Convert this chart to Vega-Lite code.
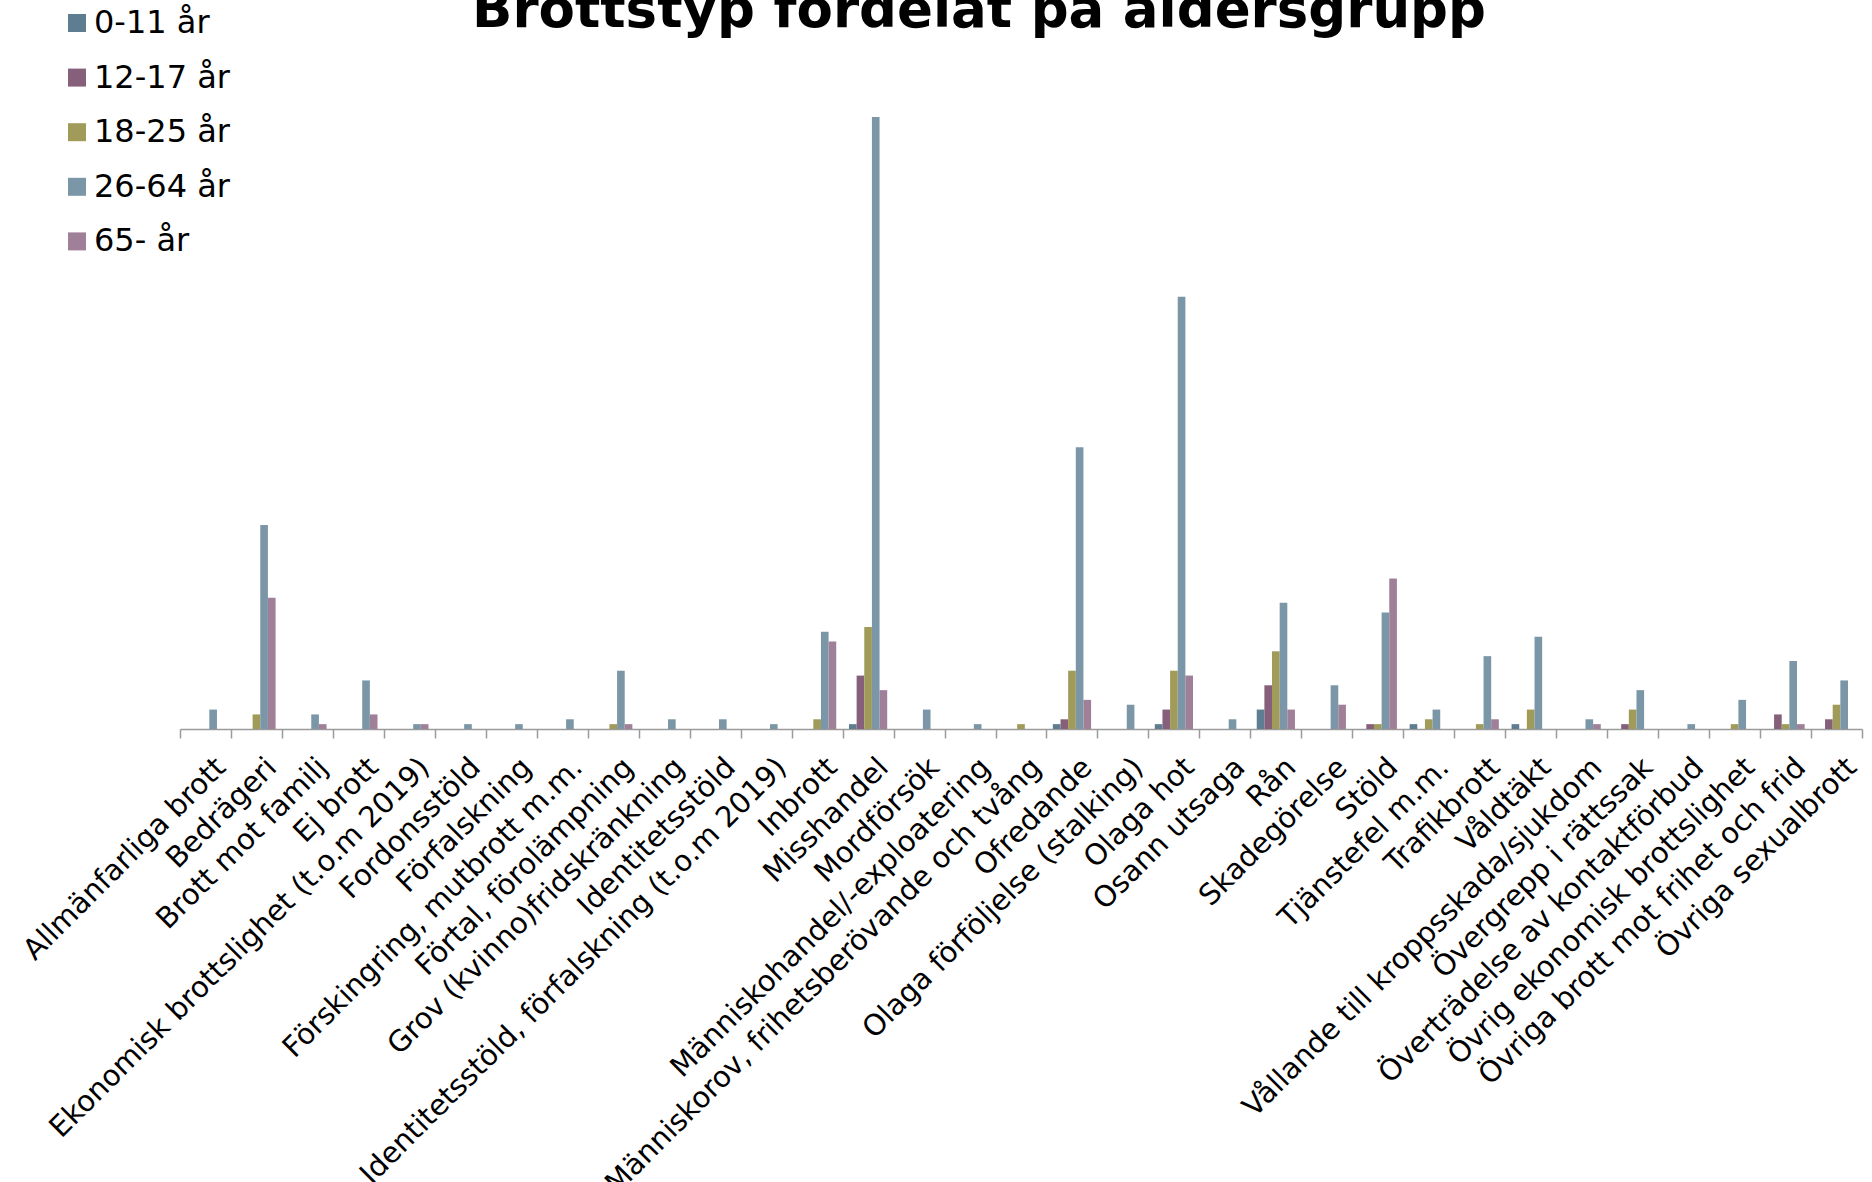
{
  "$schema": "https://vega.github.io/schema/vega-lite/v6.json",
  "autosize": {"type": "none"},
  "padding": {"left": 180, "top": 49, "right": 10, "bottom": 453},
  "width": 1682,
  "height": 680,
  "background": "white",
  "config": {"view": {"stroke": null}},
  "title": {
    "text": "Brottstyp fördelat på åldersgrupp",
    "font": "DejaVu Sans",
    "fontSize": 53,
    "fontWeight": "bold",
    "color": "black",
    "anchor": "middle",
    "frame": "group",
    "baseline": "alphabetic",
    "offset": 22,
    "dx": -42,
    "dy": 95
  },
  "data": {
    "values": [
      {"brottstyp": "Allmänfarliga brott", "alder": "0-11 år", "antal": 0},
      {"brottstyp": "Allmänfarliga brott", "alder": "12-17 år", "antal": 0},
      {"brottstyp": "Allmänfarliga brott", "alder": "18-25 år", "antal": 0},
      {"brottstyp": "Allmänfarliga brott", "alder": "26-64 år", "antal": 4},
      {"brottstyp": "Allmänfarliga brott", "alder": "65- år", "antal": 0},
      {"brottstyp": "Bedrägeri", "alder": "0-11 år", "antal": 0},
      {"brottstyp": "Bedrägeri", "alder": "12-17 år", "antal": 0},
      {"brottstyp": "Bedrägeri", "alder": "18-25 år", "antal": 3},
      {"brottstyp": "Bedrägeri", "alder": "26-64 år", "antal": 42},
      {"brottstyp": "Bedrägeri", "alder": "65- år", "antal": 27},
      {"brottstyp": "Brott mot familj", "alder": "0-11 år", "antal": 0},
      {"brottstyp": "Brott mot familj", "alder": "12-17 år", "antal": 0},
      {"brottstyp": "Brott mot familj", "alder": "18-25 år", "antal": 0},
      {"brottstyp": "Brott mot familj", "alder": "26-64 år", "antal": 3},
      {"brottstyp": "Brott mot familj", "alder": "65- år", "antal": 1},
      {"brottstyp": "Ej brott", "alder": "0-11 år", "antal": 0},
      {"brottstyp": "Ej brott", "alder": "12-17 år", "antal": 0},
      {"brottstyp": "Ej brott", "alder": "18-25 år", "antal": 0},
      {"brottstyp": "Ej brott", "alder": "26-64 år", "antal": 10},
      {"brottstyp": "Ej brott", "alder": "65- år", "antal": 3},
      {"brottstyp": "Ekonomisk brottslighet (t.o.m 2019)", "alder": "0-11 år", "antal": 0},
      {"brottstyp": "Ekonomisk brottslighet (t.o.m 2019)", "alder": "12-17 år", "antal": 0},
      {"brottstyp": "Ekonomisk brottslighet (t.o.m 2019)", "alder": "18-25 år", "antal": 0},
      {"brottstyp": "Ekonomisk brottslighet (t.o.m 2019)", "alder": "26-64 år", "antal": 1},
      {"brottstyp": "Ekonomisk brottslighet (t.o.m 2019)", "alder": "65- år", "antal": 1},
      {"brottstyp": "Fordonsstöld", "alder": "0-11 år", "antal": 0},
      {"brottstyp": "Fordonsstöld", "alder": "12-17 år", "antal": 0},
      {"brottstyp": "Fordonsstöld", "alder": "18-25 år", "antal": 0},
      {"brottstyp": "Fordonsstöld", "alder": "26-64 år", "antal": 1},
      {"brottstyp": "Fordonsstöld", "alder": "65- år", "antal": 0},
      {"brottstyp": "Förfalskning", "alder": "0-11 år", "antal": 0},
      {"brottstyp": "Förfalskning", "alder": "12-17 år", "antal": 0},
      {"brottstyp": "Förfalskning", "alder": "18-25 år", "antal": 0},
      {"brottstyp": "Förfalskning", "alder": "26-64 år", "antal": 1},
      {"brottstyp": "Förfalskning", "alder": "65- år", "antal": 0},
      {"brottstyp": "Förskingring, mutbrott m.m.", "alder": "0-11 år", "antal": 0},
      {"brottstyp": "Förskingring, mutbrott m.m.", "alder": "12-17 år", "antal": 0},
      {"brottstyp": "Förskingring, mutbrott m.m.", "alder": "18-25 år", "antal": 0},
      {"brottstyp": "Förskingring, mutbrott m.m.", "alder": "26-64 år", "antal": 2},
      {"brottstyp": "Förskingring, mutbrott m.m.", "alder": "65- år", "antal": 0},
      {"brottstyp": "Förtal, förolämpning", "alder": "0-11 år", "antal": 0},
      {"brottstyp": "Förtal, förolämpning", "alder": "12-17 år", "antal": 0},
      {"brottstyp": "Förtal, förolämpning", "alder": "18-25 år", "antal": 1},
      {"brottstyp": "Förtal, förolämpning", "alder": "26-64 år", "antal": 12},
      {"brottstyp": "Förtal, förolämpning", "alder": "65- år", "antal": 1},
      {"brottstyp": "Grov (kvinno)fridskränkning", "alder": "0-11 år", "antal": 0},
      {"brottstyp": "Grov (kvinno)fridskränkning", "alder": "12-17 år", "antal": 0},
      {"brottstyp": "Grov (kvinno)fridskränkning", "alder": "18-25 år", "antal": 0},
      {"brottstyp": "Grov (kvinno)fridskränkning", "alder": "26-64 år", "antal": 2},
      {"brottstyp": "Grov (kvinno)fridskränkning", "alder": "65- år", "antal": 0},
      {"brottstyp": "Identitetsstöld", "alder": "0-11 år", "antal": 0},
      {"brottstyp": "Identitetsstöld", "alder": "12-17 år", "antal": 0},
      {"brottstyp": "Identitetsstöld", "alder": "18-25 år", "antal": 0},
      {"brottstyp": "Identitetsstöld", "alder": "26-64 år", "antal": 2},
      {"brottstyp": "Identitetsstöld", "alder": "65- år", "antal": 0},
      {"brottstyp": "Identitetsstöld, förfalskning (t.o.m 2019)", "alder": "0-11 år", "antal": 0},
      {"brottstyp": "Identitetsstöld, förfalskning (t.o.m 2019)", "alder": "12-17 år", "antal": 0},
      {"brottstyp": "Identitetsstöld, förfalskning (t.o.m 2019)", "alder": "18-25 år", "antal": 0},
      {"brottstyp": "Identitetsstöld, förfalskning (t.o.m 2019)", "alder": "26-64 år", "antal": 1},
      {"brottstyp": "Identitetsstöld, förfalskning (t.o.m 2019)", "alder": "65- år", "antal": 0},
      {"brottstyp": "Inbrott", "alder": "0-11 år", "antal": 0},
      {"brottstyp": "Inbrott", "alder": "12-17 år", "antal": 0},
      {"brottstyp": "Inbrott", "alder": "18-25 år", "antal": 2},
      {"brottstyp": "Inbrott", "alder": "26-64 år", "antal": 20},
      {"brottstyp": "Inbrott", "alder": "65- år", "antal": 18},
      {"brottstyp": "Misshandel", "alder": "0-11 år", "antal": 1},
      {"brottstyp": "Misshandel", "alder": "12-17 år", "antal": 11},
      {"brottstyp": "Misshandel", "alder": "18-25 år", "antal": 21},
      {"brottstyp": "Misshandel", "alder": "26-64 år", "antal": 126},
      {"brottstyp": "Misshandel", "alder": "65- år", "antal": 8},
      {"brottstyp": "Mordförsök", "alder": "0-11 år", "antal": 0},
      {"brottstyp": "Mordförsök", "alder": "12-17 år", "antal": 0},
      {"brottstyp": "Mordförsök", "alder": "18-25 år", "antal": 0},
      {"brottstyp": "Mordförsök", "alder": "26-64 år", "antal": 4},
      {"brottstyp": "Mordförsök", "alder": "65- år", "antal": 0},
      {"brottstyp": "Människohandel/-exploatering", "alder": "0-11 år", "antal": 0},
      {"brottstyp": "Människohandel/-exploatering", "alder": "12-17 år", "antal": 0},
      {"brottstyp": "Människohandel/-exploatering", "alder": "18-25 år", "antal": 0},
      {"brottstyp": "Människohandel/-exploatering", "alder": "26-64 år", "antal": 1},
      {"brottstyp": "Människohandel/-exploatering", "alder": "65- år", "antal": 0},
      {"brottstyp": "Människorov, frihetsberövande och tvång", "alder": "0-11 år", "antal": 0},
      {"brottstyp": "Människorov, frihetsberövande och tvång", "alder": "12-17 år", "antal": 0},
      {"brottstyp": "Människorov, frihetsberövande och tvång", "alder": "18-25 år", "antal": 1},
      {"brottstyp": "Människorov, frihetsberövande och tvång", "alder": "26-64 år", "antal": 0},
      {"brottstyp": "Människorov, frihetsberövande och tvång", "alder": "65- år", "antal": 0},
      {"brottstyp": "Ofredande", "alder": "0-11 år", "antal": 1},
      {"brottstyp": "Ofredande", "alder": "12-17 år", "antal": 2},
      {"brottstyp": "Ofredande", "alder": "18-25 år", "antal": 12},
      {"brottstyp": "Ofredande", "alder": "26-64 år", "antal": 58},
      {"brottstyp": "Ofredande", "alder": "65- år", "antal": 6},
      {"brottstyp": "Olaga förföljelse (stalking)", "alder": "0-11 år", "antal": 0},
      {"brottstyp": "Olaga förföljelse (stalking)", "alder": "12-17 år", "antal": 0},
      {"brottstyp": "Olaga förföljelse (stalking)", "alder": "18-25 år", "antal": 0},
      {"brottstyp": "Olaga förföljelse (stalking)", "alder": "26-64 år", "antal": 5},
      {"brottstyp": "Olaga förföljelse (stalking)", "alder": "65- år", "antal": 0},
      {"brottstyp": "Olaga hot", "alder": "0-11 år", "antal": 1},
      {"brottstyp": "Olaga hot", "alder": "12-17 år", "antal": 4},
      {"brottstyp": "Olaga hot", "alder": "18-25 år", "antal": 12},
      {"brottstyp": "Olaga hot", "alder": "26-64 år", "antal": 89},
      {"brottstyp": "Olaga hot", "alder": "65- år", "antal": 11},
      {"brottstyp": "Osann utsaga", "alder": "0-11 år", "antal": 0},
      {"brottstyp": "Osann utsaga", "alder": "12-17 år", "antal": 0},
      {"brottstyp": "Osann utsaga", "alder": "18-25 år", "antal": 0},
      {"brottstyp": "Osann utsaga", "alder": "26-64 år", "antal": 2},
      {"brottstyp": "Osann utsaga", "alder": "65- år", "antal": 0},
      {"brottstyp": "Rån", "alder": "0-11 år", "antal": 4},
      {"brottstyp": "Rån", "alder": "12-17 år", "antal": 9},
      {"brottstyp": "Rån", "alder": "18-25 år", "antal": 16},
      {"brottstyp": "Rån", "alder": "26-64 år", "antal": 26},
      {"brottstyp": "Rån", "alder": "65- år", "antal": 4},
      {"brottstyp": "Skadegörelse", "alder": "0-11 år", "antal": 0},
      {"brottstyp": "Skadegörelse", "alder": "12-17 år", "antal": 0},
      {"brottstyp": "Skadegörelse", "alder": "18-25 år", "antal": 0},
      {"brottstyp": "Skadegörelse", "alder": "26-64 år", "antal": 9},
      {"brottstyp": "Skadegörelse", "alder": "65- år", "antal": 5},
      {"brottstyp": "Stöld", "alder": "0-11 år", "antal": 0},
      {"brottstyp": "Stöld", "alder": "12-17 år", "antal": 1},
      {"brottstyp": "Stöld", "alder": "18-25 år", "antal": 1},
      {"brottstyp": "Stöld", "alder": "26-64 år", "antal": 24},
      {"brottstyp": "Stöld", "alder": "65- år", "antal": 31},
      {"brottstyp": "Tjänstefel m.m.", "alder": "0-11 år", "antal": 1},
      {"brottstyp": "Tjänstefel m.m.", "alder": "12-17 år", "antal": 0},
      {"brottstyp": "Tjänstefel m.m.", "alder": "18-25 år", "antal": 2},
      {"brottstyp": "Tjänstefel m.m.", "alder": "26-64 år", "antal": 4},
      {"brottstyp": "Tjänstefel m.m.", "alder": "65- år", "antal": 0},
      {"brottstyp": "Trafikbrott", "alder": "0-11 år", "antal": 0},
      {"brottstyp": "Trafikbrott", "alder": "12-17 år", "antal": 0},
      {"brottstyp": "Trafikbrott", "alder": "18-25 år", "antal": 1},
      {"brottstyp": "Trafikbrott", "alder": "26-64 år", "antal": 15},
      {"brottstyp": "Trafikbrott", "alder": "65- år", "antal": 2},
      {"brottstyp": "Våldtäkt", "alder": "0-11 år", "antal": 1},
      {"brottstyp": "Våldtäkt", "alder": "12-17 år", "antal": 0},
      {"brottstyp": "Våldtäkt", "alder": "18-25 år", "antal": 4},
      {"brottstyp": "Våldtäkt", "alder": "26-64 år", "antal": 19},
      {"brottstyp": "Våldtäkt", "alder": "65- år", "antal": 0},
      {"brottstyp": "Vållande till kroppsskada/sjukdom", "alder": "0-11 år", "antal": 0},
      {"brottstyp": "Vållande till kroppsskada/sjukdom", "alder": "12-17 år", "antal": 0},
      {"brottstyp": "Vållande till kroppsskada/sjukdom", "alder": "18-25 år", "antal": 0},
      {"brottstyp": "Vållande till kroppsskada/sjukdom", "alder": "26-64 år", "antal": 2},
      {"brottstyp": "Vållande till kroppsskada/sjukdom", "alder": "65- år", "antal": 1},
      {"brottstyp": "Övergrepp i rättssak", "alder": "0-11 år", "antal": 0},
      {"brottstyp": "Övergrepp i rättssak", "alder": "12-17 år", "antal": 1},
      {"brottstyp": "Övergrepp i rättssak", "alder": "18-25 år", "antal": 4},
      {"brottstyp": "Övergrepp i rättssak", "alder": "26-64 år", "antal": 8},
      {"brottstyp": "Övergrepp i rättssak", "alder": "65- år", "antal": 0},
      {"brottstyp": "Överträdelse av kontaktförbud", "alder": "0-11 år", "antal": 0},
      {"brottstyp": "Överträdelse av kontaktförbud", "alder": "12-17 år", "antal": 0},
      {"brottstyp": "Överträdelse av kontaktförbud", "alder": "18-25 år", "antal": 0},
      {"brottstyp": "Överträdelse av kontaktförbud", "alder": "26-64 år", "antal": 1},
      {"brottstyp": "Överträdelse av kontaktförbud", "alder": "65- år", "antal": 0},
      {"brottstyp": "Övrig ekonomisk brottslighet", "alder": "0-11 år", "antal": 0},
      {"brottstyp": "Övrig ekonomisk brottslighet", "alder": "12-17 år", "antal": 0},
      {"brottstyp": "Övrig ekonomisk brottslighet", "alder": "18-25 år", "antal": 1},
      {"brottstyp": "Övrig ekonomisk brottslighet", "alder": "26-64 år", "antal": 6},
      {"brottstyp": "Övrig ekonomisk brottslighet", "alder": "65- år", "antal": 0},
      {"brottstyp": "Övriga brott mot frihet och frid", "alder": "0-11 år", "antal": 0},
      {"brottstyp": "Övriga brott mot frihet och frid", "alder": "12-17 år", "antal": 3},
      {"brottstyp": "Övriga brott mot frihet och frid", "alder": "18-25 år", "antal": 1},
      {"brottstyp": "Övriga brott mot frihet och frid", "alder": "26-64 år", "antal": 14},
      {"brottstyp": "Övriga brott mot frihet och frid", "alder": "65- år", "antal": 1},
      {"brottstyp": "Övriga sexualbrott", "alder": "0-11 år", "antal": 0},
      {"brottstyp": "Övriga sexualbrott", "alder": "12-17 år", "antal": 2},
      {"brottstyp": "Övriga sexualbrott", "alder": "18-25 år", "antal": 5},
      {"brottstyp": "Övriga sexualbrott", "alder": "26-64 år", "antal": 10},
      {"brottstyp": "Övriga sexualbrott", "alder": "65- år", "antal": 0}
    ]
  },
  "mark": {"type": "bar"},
  "encoding": {
    "x": {
      "field": "brottstyp",
      "type": "nominal",
      "sort": null,
      "scale": {"paddingInner": 0, "paddingOuter": 0},
      "axis": {
        "title": null,
        "labelAngle": -45,
        "labelAlign": "right",
        "labelBaseline": "top",
        "labelFont": "DejaVu Sans",
        "labelFontSize": 29,
        "labelColor": "black",
        "labelLimit": 2000,
        "labelPadding": 14.5,
        "labelOffset": 5,
        "labelOverlap": false,
        "tickBand": "extent",
        "tickSize": 9,
        "tickColor": "#9a9a9a",
        "tickWidth": 1.5,
        "domainColor": "#9a9a9a",
        "domainWidth": 1.5,
        "grid": false
      }
    },
    "xOffset": {
      "field": "alder",
      "type": "nominal",
      "sort": ["0-11 år", "12-17 år", "18-25 år", "26-64 år", "65- år"],
      "scale": {"paddingInner": 0, "paddingOuter": 0.8333}
    },
    "y": {
      "field": "antal",
      "type": "quantitative",
      "scale": {"domain": [0, 140], "nice": false},
      "axis": null
    },
    "color": {
      "field": "alder",
      "type": "nominal",
      "sort": ["0-11 år", "12-17 år", "18-25 år", "26-64 år", "65- år"],
      "scale": {
        "domain": ["0-11 år", "12-17 år", "18-25 år", "26-64 år", "65- år"],
        "range": ["#5e7d90", "#86607b", "#a19b59", "#7b97a7", "#a07f98"]
      },
      "legend": {
        "title": null,
        "orient": "none",
        "legendX": -119,
        "legendY": -42,
        "padding": 0,
        "symbolType": "square",
        "symbolSize": 324,
        "symbolStrokeWidth": 0,
        "symbolOpacity": 1,
        "labelFont": "DejaVu Sans",
        "labelFontSize": 32,
        "labelColor": "black",
        "labelOffset": 1,
        "labelLimit": 400,
        "rowPadding": 22.6
      }
    }
  }
}
